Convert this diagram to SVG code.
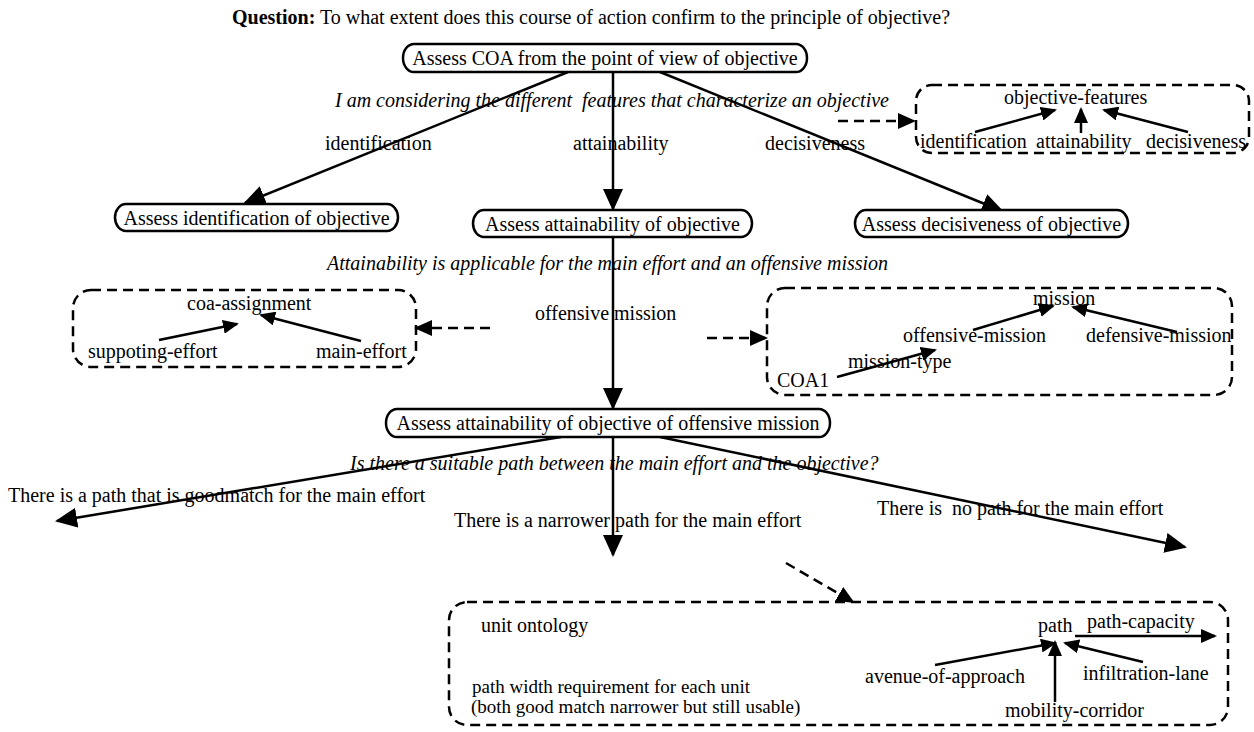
<svg xmlns="http://www.w3.org/2000/svg" width="1254" height="732" viewBox="0 0 1254 732">
<style>
text{font-family:"Liberation Serif","Times New Roman",serif;font-size:20px;fill:#000}
.it{font-style:italic}
.b{font-weight:bold}
.m{text-anchor:middle}
.sm19{font-size:19px}
.node{fill:#fff;stroke:#000;stroke-width:2.5}
.dbox{fill:none;stroke:#000;stroke-width:2.5;stroke-dasharray:10 6}
.c{fill:none;stroke:#000;stroke-width:2.5}
.cd{fill:none;stroke:#000;stroke-width:2.5;stroke-dasharray:10 6}
.ab{marker-end:url(#big)}
.as{marker-end:url(#sm)}
.am{marker-end:url(#md)}
</style>
<defs>
<marker id="big" markerUnits="userSpaceOnUse" viewBox="0 0 22 20" markerWidth="22" markerHeight="20" refX="20" refY="10" orient="auto"><path d="M0,0 L22,10 L0,20 z" fill="#000"/></marker>
<marker id="md" markerUnits="userSpaceOnUse" viewBox="0 0 18 16" markerWidth="18" markerHeight="16" refX="16" refY="8" orient="auto"><path d="M0,0 L18,8 L0,16 z" fill="#000"/></marker>
<marker id="sm" markerUnits="userSpaceOnUse" viewBox="0 0 16 14" markerWidth="16" markerHeight="14" refX="14" refY="7" orient="auto"><path d="M0,0 L16,7 L0,14 z" fill="#000"/></marker>
</defs>
<rect width="1254" height="732" fill="#fff"/>

<text id="title" x="232" y="24"><tspan class="b">Question:</tspan> To what extent does this course of action confirm to the principle of objective?</text>

<g id="connectors">
<path class="c ab" d="M568,72 L245,203"/>
<path class="c ab" d="M613,72 L613,209"/>
<path class="c ab" d="M660,72 L1002,211"/>
<path class="c ab" d="M613,237 L613,408"/>
<path class="c ab" d="M561,437 L57,521"/>
<path class="c ab" d="M613,437 L613,555"/>
<path class="c ab" d="M660,437 L1185,547"/>
<path class="cd am" d="M838,121 L914,121"/>
<path class="cd am" d="M490,328 L416,328"/>
<path class="cd am" d="M707,338 L766,338"/>
<path class="cd am" d="M786,563 L853,602"/>
<path class="c as" d="M975,132 L1055,110"/>
<path class="c as" d="M1081,133 L1081,109"/>
<path class="c as" d="M1188,132 L1104,110"/>
<path class="c as" d="M159,340 L237,324"/>
<path class="c as" d="M361,341 L261,315"/>
<path class="c as" d="M837,377 L935,350"/>
<path class="c as" d="M973,330 L1053,306"/>
<path class="c as" d="M1177,332 L1073,307"/>
<path class="c as" d="M1075,636 L1215,636"/>
<path class="c as" d="M935,665 L1055,643"/>
<path class="c as" d="M1055,702 L1055,642"/>
<path class="c as" d="M1143,662 L1065,643"/>
</g>

<g id="edge-labels">
<text class="it" x="335" y="107" xml:space="preserve">I am considering the different  features that characterize an objective</text>
<text x="325" y="150">identification</text>
<text x="573" y="150">attainability</text>
<text x="765" y="150">decisiveness</text>
<text class="it" x="327" y="270">Attainability is applicable for the main effort and an offensive mission</text>
<text x="535" y="320">offensive mission</text>
<text class="it" x="350" y="470">Is there a suitable path between the main effort and the objective?</text>
<text x="8" y="502">There is a path that is goodmatch for the main effort</text>
<text x="454" y="527">There is a narrower path for the main effort</text>
<text x="877" y="515" xml:space="preserve">There is  no path for the main effort</text>
</g>

<g id="n-top"><rect class="node" x="403" y="44" width="404" height="28" rx="11" ry="14"/><text class="m" x="605" y="65">Assess COA from the point of view of objective</text></g>
<g id="n-ident"><rect class="node" x="115" y="204" width="283" height="27" rx="11" ry="13.5"/><text class="m" x="256.5" y="225">Assess identification of objective</text></g>
<g id="n-attain"><rect class="node" x="473" y="210" width="279" height="27" rx="11" ry="13.5"/><text class="m" x="612.5" y="231">Assess attainability of objective</text></g>
<g id="n-decis"><rect class="node" x="855" y="210" width="273" height="27" rx="11" ry="13.5"/><text class="m" x="991.5" y="231">Assess decisiveness of objective</text></g>
<g id="n-offensive"><rect class="node" x="386" y="409" width="444" height="28" rx="11" ry="14"/><text class="m" x="608" y="430">Assess attainability of objective of offensive mission</text></g>

<g id="box-objective-features">
<rect class="dbox" x="916" y="85" width="333" height="68" rx="16"/>
<text x="1004" y="104">objective-features</text>
<text x="920" y="148">identification</text>
<text x="1036" y="148">attainability</text>
<text x="1146" y="148">decisiveness</text>
</g>

<g id="box-coa-assignment">
<rect class="dbox" x="73" y="290" width="343" height="77" rx="18"/>
<text x="187" y="310">coa-assignment</text>
<text x="88" y="358">suppoting-effort</text>
<text x="316" y="358">main-effort</text>
</g>

<g id="box-mission">
<rect class="dbox" x="767" y="288" width="465" height="107" rx="18"/>
<text x="1033" y="305">mission</text>
<text x="903" y="342">offensive-mission</text>
<text x="1086" y="342">defensive-mission</text>
<text x="848" y="368">mission-type</text>
<text x="777" y="387">COA1</text>
</g>

<g id="box-unit-ontology">
<rect class="dbox" x="449" y="602" width="779" height="123" rx="18"/>
<text x="481" y="632">unit ontology</text>
<text class="sm19" x="472" y="693">path width requirement for each unit</text>
<text class="sm19" x="471" y="713">(both good match narrower but still usable)</text>
<text x="1038" y="632">path</text>
<text x="1087" y="628">path-capacity</text>
<text x="865" y="683">avenue-of-approach</text>
<text x="1083" y="680">infiltration-lane</text>
<text x="1005" y="717">mobility-corridor</text>
</g>
</svg>
